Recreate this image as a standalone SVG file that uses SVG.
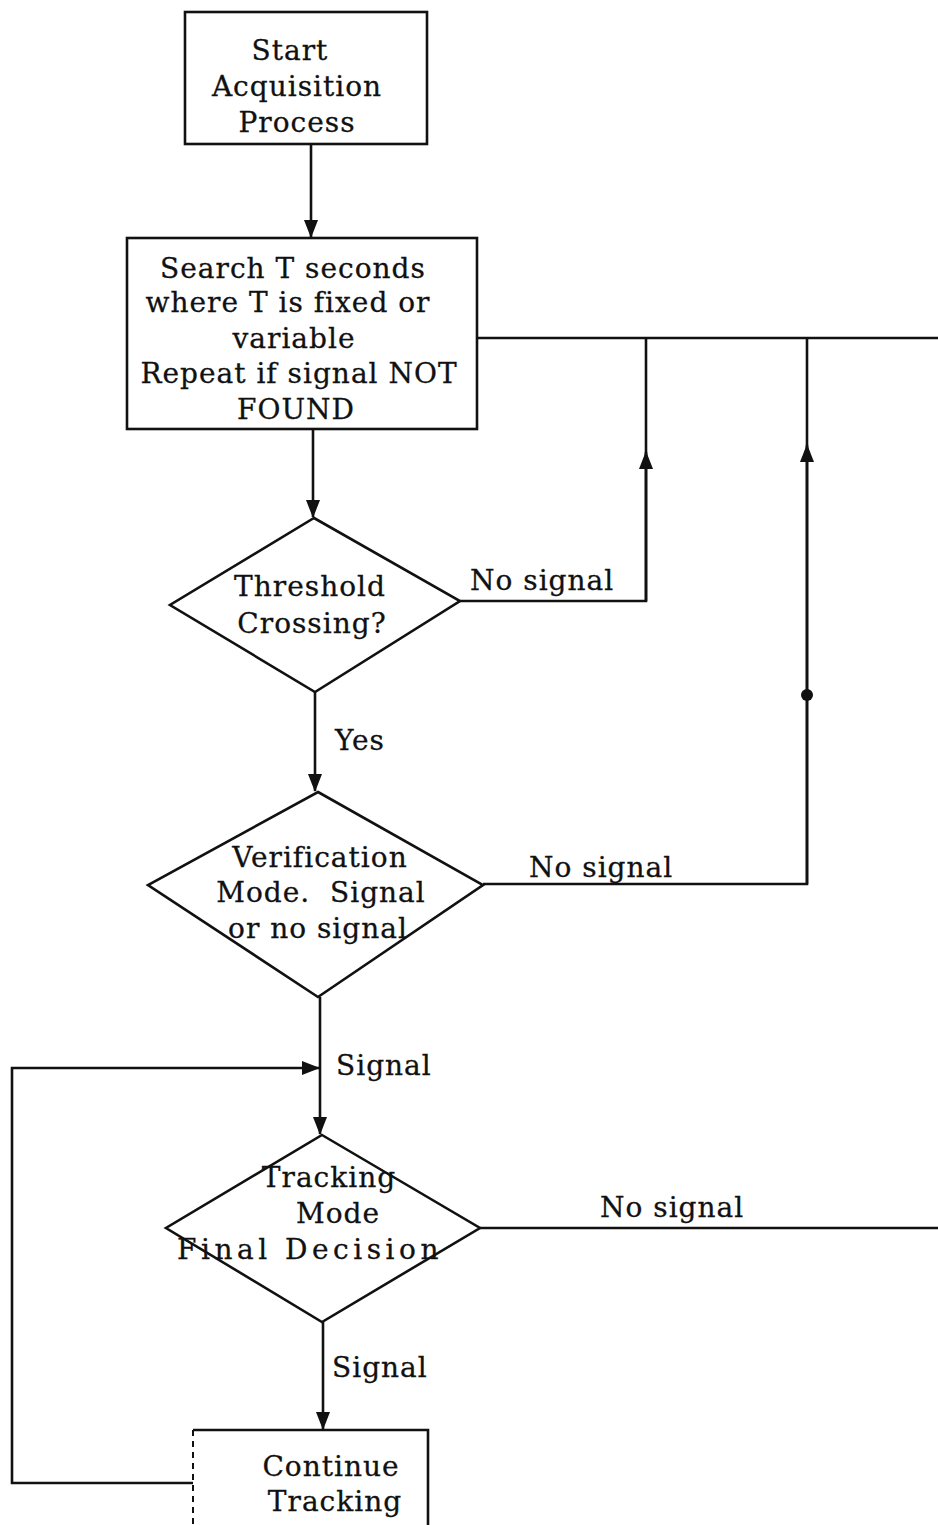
<svg xmlns="http://www.w3.org/2000/svg" width="938" height="1525" viewBox="0 0 938 1525">
  <style>
    .box { fill: none; stroke: #111; stroke-width: 2.6; }
    .ln { fill: none; stroke: #111; stroke-width: 2.6; }
    .dash { fill: none; stroke: #111; stroke-width: 2; stroke-dasharray: 6 5; }
    text { font-family: "DejaVu Serif", "Liberation Serif", serif; font-size: 28px; letter-spacing: 1px; fill: #111; stroke: #111; stroke-width: 0.3; text-anchor: middle; }
    .lbl { text-anchor: start; }
    .wide { letter-spacing: 4.5px; }
  </style>
  <defs>
    <marker id="arr" viewBox="0 0 18 14" refX="17" refY="7" markerWidth="18" markerHeight="14" markerUnits="userSpaceOnUse" orient="auto">
      <path d="M0,0 L18,7 L0,14 Z" fill="#111"/>
    </marker>
  </defs>

  <rect width="938" height="1525" fill="#fff"/>

  <g id="connectors">
    <!-- start -> search -->
    <path class="ln" d="M311,144 V237" marker-end="url(#arr)"/>
    <!-- search -> threshold -->
    <path class="ln" d="M313,429 V517" marker-end="url(#arr)"/>
    <!-- return bus to search box -->
    <path class="ln" d="M477,338 H938"/>
    <!-- threshold no signal -->
    <path class="ln" d="M460,601 H646 V338"/>
    <path class="ln" d="M646,601 V452" marker-end="url(#arr)"/>
    <!-- verification no signal -->
    <path class="ln" d="M483,884 H807 V338"/>
    <path class="ln" d="M807,884 V445" marker-end="url(#arr)"/>
    <circle cx="807" cy="695" r="6" fill="#111"/>
    <!-- threshold yes -> verification -->
    <path class="ln" d="M315,692 V791" marker-end="url(#arr)"/>
    <!-- verification signal -> tracking -->
    <path class="ln" d="M320,997 V1134" marker-end="url(#arr)"/>
    <!-- continue tracking loop back -->
    <path class="ln" d="M193,1483 H12 V1068 H319" marker-end="url(#arr)"/>
    <!-- tracking no signal -->
    <path class="ln" d="M480,1228 H938"/>
    <!-- tracking signal -> continue -->
    <path class="ln" d="M323,1322 V1429" marker-end="url(#arr)"/>
  </g>

  <g id="start">
    <rect class="box" x="185" y="12" width="242" height="132"/>
    <text x="290" y="60">Start</text>
    <text x="297" y="96">Acquisition</text>
    <text x="297" y="132">Process</text>
  </g>

  <g id="search">
    <rect class="box" x="127" y="238" width="350" height="191"/>
    <text x="293" y="278">Search T seconds</text>
    <text x="288" y="312">where T is fixed or</text>
    <text x="294" y="348">variable</text>
    <text x="299" y="383">Repeat if signal NOT</text>
    <text x="296" y="419">FOUND</text>
  </g>

  <g id="threshold">
    <path class="box" d="M314,518 L460,601 L315,692 L170,605 Z"/>
    <text x="310" y="596">Threshold</text>
    <text x="312" y="633">Crossing?</text>
  </g>

  <g id="verification">
    <path class="box" d="M318,792 L483,885 L318,997 L148,885 Z"/>
    <text x="320" y="867">Verification</text>
    <text x="321" y="902" xml:space="preserve">Mode.  Signal</text>
    <text x="318" y="938">or no signal</text>
  </g>

  <g id="tracking">
    <path class="box" d="M322,1135 L480,1228 L322,1322 L166,1228 Z"/>
    <text x="329" y="1187">Tracking</text>
    <text x="338" y="1223">Mode</text>
    <text class="wide" x="310" y="1259">Final Decision</text>
  </g>

  <g id="continue">
    <path class="box" d="M193,1430 H428 V1525"/>
    <path class="dash" d="M193,1430 V1525"/>
    <text x="331" y="1476">Continue</text>
    <text x="335" y="1511">Tracking</text>
  </g>

  <g id="labels">
    <text class="lbl" x="470" y="590">No signal</text>
    <text class="lbl" x="335" y="750">Yes</text>
    <text class="lbl" x="529" y="877">No signal</text>
    <text class="lbl" x="336" y="1075">Signal</text>
    <text class="lbl" x="600" y="1217">No signal</text>
    <text class="lbl" x="332" y="1377">Signal</text>
  </g>
</svg>
